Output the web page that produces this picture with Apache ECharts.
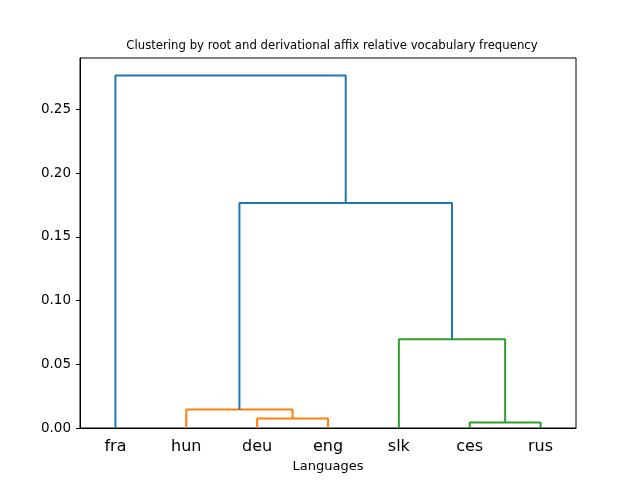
<!DOCTYPE html>
<html><head><meta charset="utf-8">
<script src="https://cdn.jsdelivr.net/npm/echarts@6/dist/echarts.min.js"></script>
<style>html,body{margin:0;padding:0;background:#fff}#c{width:640px;height:480px}</style>
</head><body><div id="c"></div>
<script>
const leaves = ['fra','hun','deu','eng','slk','ces','rus'];
const linkX = [
  [25,25,35,35],
  [15,15,30,30],
  [55,55,65,65],
  [45,45,60,60],
  [22.5,22.5,52.5,52.5],
  [5,5,37.5,37.5]
];
const linkY = [
  [0,0.0074,0.0074,0],
  [0,0.0146,0.0146,0.0074],
  [0,0.0043,0.0043,0],
  [0,0.0697,0.0697,0.0043],
  [0.0146,0.1765,0.1765,0.0697],
  [0,0.2765,0.2765,0.1765]
];
const linkColor = ['#ff7f0e','#ff7f0e','#2ca02c','#2ca02c','#1f77b4','#1f77b4'];
const yTop = 0.2765*1.05;
const font = 'DejaVu Sans';

const chart = echarts.init(document.getElementById('c'), null, {renderer:'canvas'});
chart.setOption({
  animation:false,
  backgroundColor:'#fff',
  title:{text:'Clustering by root and derivational affix relative vocabulary frequency',
    left:327, top:35, textAlign:'center',
    textStyle:{fontFamily:font,fontSize:11.7,fontWeight:'normal',color:'#000'}},
  grid:{left:80,right:64,top:58,bottom:52,show:true,borderColor:'#000',borderWidth:1},
  xAxis:[
    {type:'category',data:leaves,boundaryGap:true,position:'bottom',
     name:'Languages',nameLocation:'middle',nameGap:32,
     nameTextStyle:{fontFamily:font,fontSize:13,color:'#000'},
     axisLine:{lineStyle:{color:'#000'}},axisTick:{show:false},
     axisLabel:{fontFamily:font,fontSize:16,color:'#000',margin:11},
     splitLine:{show:false}},
    {type:'value',min:0,max:70,show:false,position:'top'}
  ],
  yAxis:{type:'value',min:0,max:yTop,interval:0.05,
    axisLine:{show:true,lineStyle:{color:'#000'}},
    axisTick:{show:true,inside:false,length:4,lineStyle:{color:'#000'}},
    axisLabel:{fontFamily:font,fontSize:13.5,color:'#000',margin:9,showMaxLabel:false,
      formatter:v=>v.toFixed(2)},
    splitLine:{show:false}},
  series: linkX.map((xs,i)=>({
    type:'line',xAxisIndex:1,yAxisIndex:0,symbol:'none',
    data:xs.map((x,j)=>[x,linkY[i][j]]),
    lineStyle:{color:linkColor[i],width:2},
    itemStyle:{color:linkColor[i]}
  }))
});
</script></body></html>
